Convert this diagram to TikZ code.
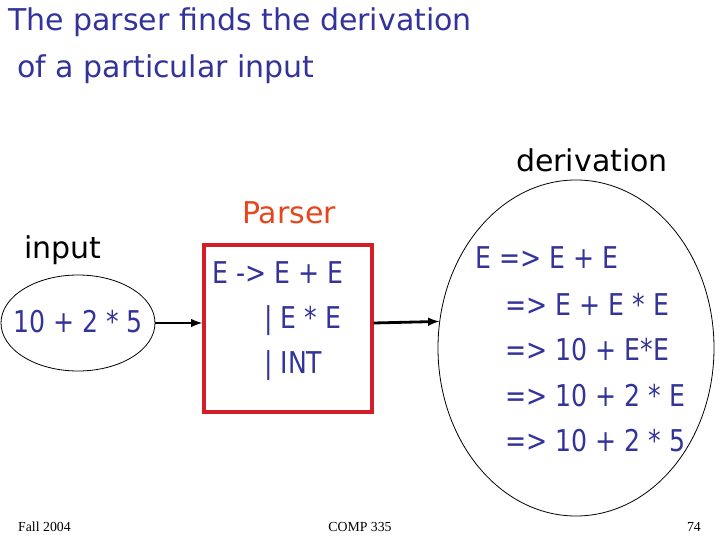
\documentclass[tikz,border=0pt]{standalone}
\usepackage{fontspec}
\setmainfont{DejaVu Sans}
\newfontfamily\formfont[FakeStretch=0.84]{DejaVu Sans}
\newfontfamily\footfont{Liberation Serif}
\usepackage{xcolor}
\usetikzlibrary{arrows}
\usetikzlibrary{shapes.geometric}
\definecolor{sblue}{RGB}{51,51,153}
\definecolor{sred}{RGB}{230,70,30}
\definecolor{boxred}{RGB}{210,30,40}

\tikzset{
  word/.style={font=\fontsize{30}{36}\selectfont, inner sep=0pt},
  form/.style={font=\formfont\fontsize{30}{36}\selectfont, color=sblue, inner sep=0pt},
  foot/.style={font=\footfont\fontsize{13.8}{16}\selectfont, inner sep=0pt},
  conn/.style={-latex, line width=2.8pt},
  blob/.style={draw, ellipse, line width=0.8pt, inner sep=0pt}
}

\begin{document}
\begin{tikzpicture}[x=1pt,y=-1pt]
\useasboundingbox (0,0) rectangle (720,540);

% title
\node[word, color=sblue, anchor=west] (title1) at (8,22) {The parser finds the derivation};
\node[word, color=sblue, anchor=west] (title2) at (17,69) {of a particular input};

% input side
\node[word] (inlabel) at (63,250) {input};
\node[blob, minimum width=154pt, minimum height=96pt] (inell) at (78,323) {};
\node[form] (inp) at (78,322) {10 + 2 * 5};

% parser box
\node[word, color=sred] (parserlabel) at (289,213) {Parser};
\node[draw=boxred, line width=3.5pt, minimum width=168pt, minimum height=167pt, inner sep=0pt] (parser) at (288,328.5) {};
\node[form, anchor=west] (g1) at (212,273) {E -> E + E};
\node[form, anchor=west] (g2) at (264,321) {| E * E};
\node[form, anchor=west] (g3) at (264,366) {| INT};

% derivation side
\node[word] (derlabel) at (592,160) {derivation};
\node[blob, minimum width=276pt, minimum height=336pt] (derell) at (576,348) {};
\node[form, anchor=west] (d1) at (475,258) {E => E + E};
\node[form, anchor=west] (d2) at (505,304) {=> E + E * E};
\node[form, anchor=west] (d3) at (505,350) {=> 10 + E*E};
\node[form, anchor=west] (d4) at (505,396) {=> 10 + 2 * E};
\node[form, anchor=west] (d5) at (505,441) {=> 10 + 2 * 5};

\draw[conn] (inell.east) -- (inell.east -| parser.west);
\draw[conn] (inell.east -| parser.east) -- (derell.169);

% footer
\node[foot, anchor=west] (fall) at (18,527) {Fall 2004};
\node[foot] (course) at (360,527) {COMP 335};
\node[foot, anchor=east] (page) at (701,527) {74};
\end{tikzpicture}
\end{document}
